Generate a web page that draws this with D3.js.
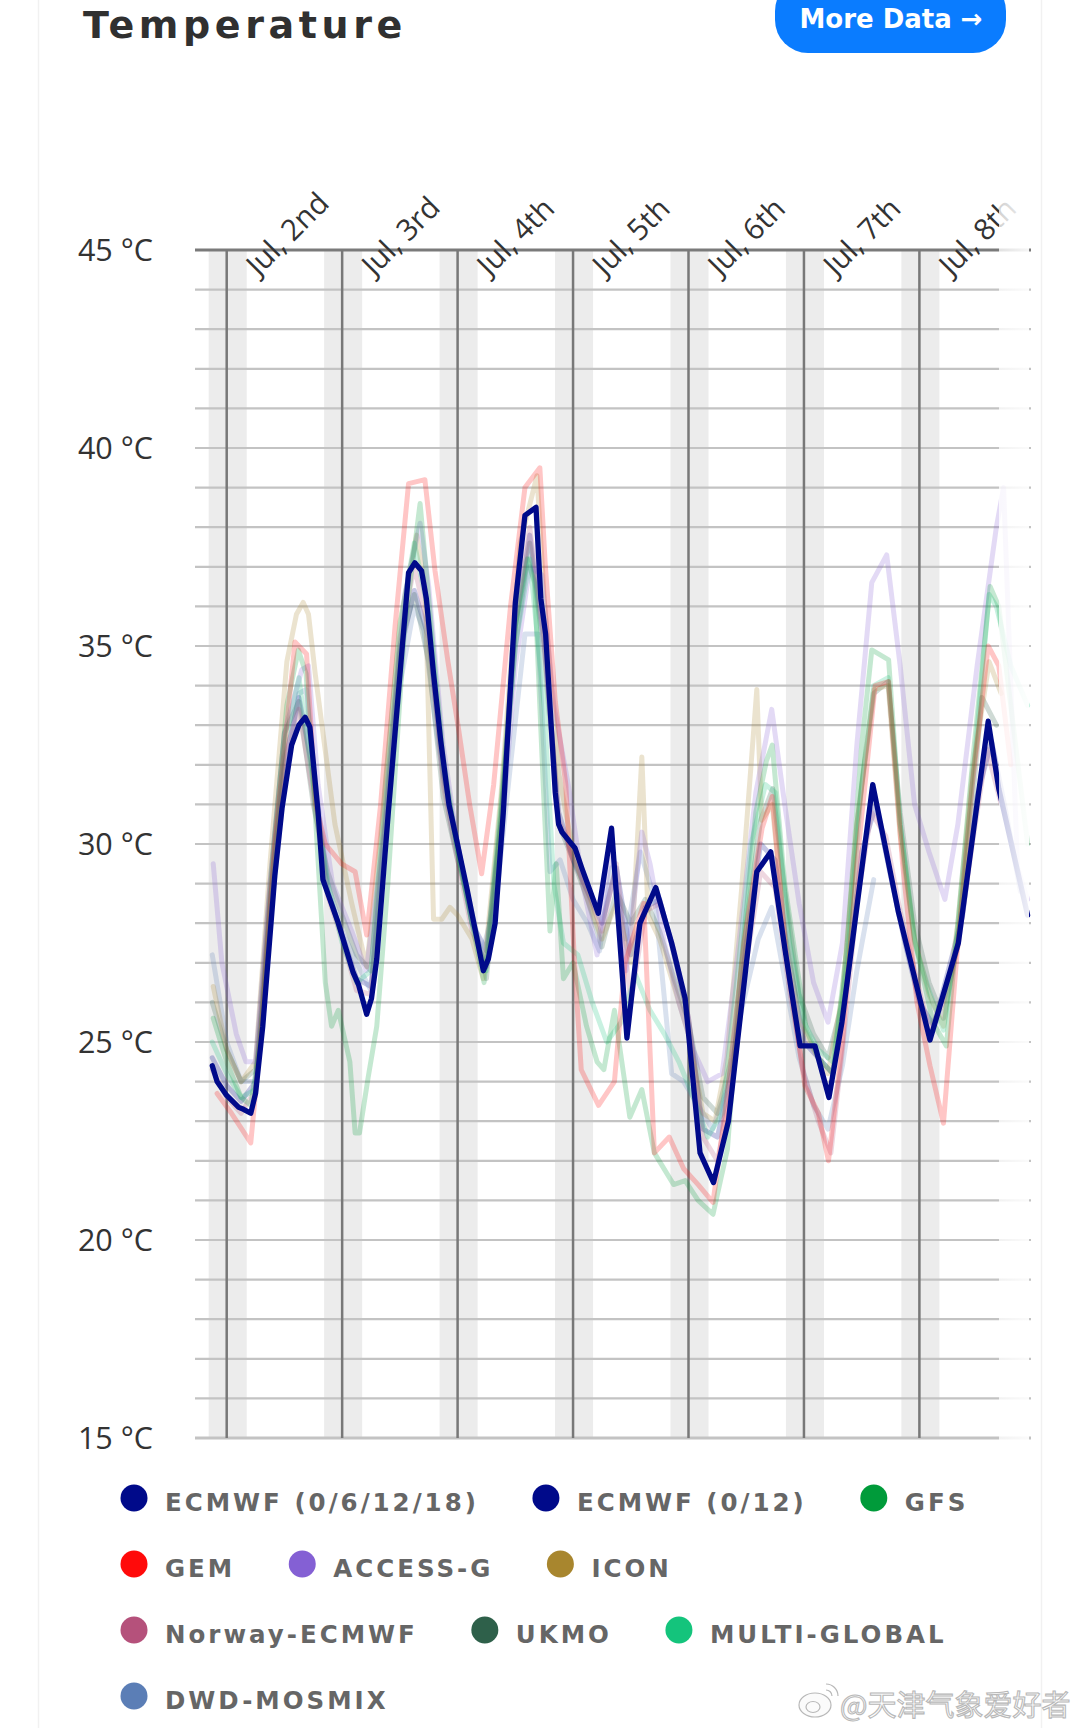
<!DOCTYPE html>
<html>
<head>
<meta charset="utf-8">
<script src="https://cdn.jsdelivr.net/npm/d3@7"></script>
<style>
  html, body { margin: 0; padding: 0; background: #fff; }
  svg { display: block; }
</style>
</head>
<body>
<svg id="chart" width="1080" height="1728"></svg>
<script>
// hours are counted from Jul 1st 00:00
const dayTicks = [24, 48, 72, 96, 120, 144, 168];
const dayLabels = ["Jul, 2nd", "Jul, 3rd", "Jul, 4th", "Jul, 5th", "Jul, 6th", "Jul, 7th", "Jul, 8th"];
const tempTicks = [15, 20, 25, 30, 35, 40, 45];

const legendNames = ["ECMWF (0/6/12/18)", "ECMWF (0/12)", "GFS", "GEM", "ACCESS-G", "ICON",
  "Norway-ECMWF", "UKMO", "MULTI-GLOBAL", "DWD-MOSMIX"];
const legendColors = ["#000a8a", "#000a8a", "#009b3a", "#ff0a0a", "#8460d4", "#a8862e",
  "#b5517b", "#2e604a", "#14c47c", "#5b7eb6"];

// [hour, °C]
const ecmwf6h = [[21,24.4],[22,24.0],[24,23.65],[26.5,23.35],[27.5,23.3],[29,23.2],[30,23.7],[31.5,25.4],[34,29.2],[35.5,30.9],[37.5,32.5],[39,33.0],[40.3,33.2],[41.3,32.95],[43,30.8],[44,29.1],[47.2,28.0],[50.3,26.75],[51.4,26.45],[53.1,25.7],[54.1,26.1],[55.2,27.1],[57.6,30.8],[61.8,36.85],[63.1,37.1],[64.5,36.9],[65.5,36.2],[67,34.3],[68.5,32.6],[70.2,31.0],[72.15,29.9],[73.9,28.9],[77.35,26.8],[78.4,27.1],[79.8,28.0],[81.5,30.8],[84,36.1],[86,38.3],[88.3,38.5],[89.3,36.2],[90.3,35.3],[92.3,31.3],[93,30.5],[93.7,30.3],[95.7,30.0],[96.4,29.9],[97.8,29.4],[101.25,28.25],[104,30.4],[107.2,25.1],[109.9,28.0],[113.2,28.9],[116.5,27.5],[119.3,26.1],[122.4,22.2],[125.2,21.45],[128.3,23.0],[134.2,29.3],[137.1,29.8],[140.1,27.3],[143.2,24.9],[146.3,24.9],[149.2,23.6],[151.9,25.5],[158.3,31.5],[163.6,28.3],[170.2,25.05],[176.1,27.5],[182.3,33.1],[184.5,31.4],[190.5,28.2]];

const ecmwf12h = [[21,24.6],[24,23.9],[27,23.5],[30,24.0],[33,28.5],[36,32.0],[39,33.7],[42,31.8],[45,28.8],[48,27.7],[51,26.6],[54,26.4],[57,30.5],[60,34.8],[63,36.4],[66,35.2],[69,31.8],[72,30.0],[75,28.0],[78,27.3],[81,30.5],[84,35.5],[87,37.8],[90,35.0],[93,30.8],[96,29.6],[99,28.8],[102,28.0],[105,29.4],[108,27.2],[111,28.4],[114,28.6],[117,27.2],[120,25.6],[123,22.8],[126,22.6],[129,24.2],[132,27.5],[135,30.0],[138,29.6],[141,27.0],[144,25.0],[147,24.6],[150,24.2],[153,26.5],[156,29.8],[159,31.0],[162,29.2],[165,27.5],[168,26.0],[171,25.4],[174,26.8],[177,28.2],[180,31.2],[183,32.6],[186,30.8],[189,28.8]];

const gfs = [[21.2,25.6],[24,24.5],[27,23.6],[29,23.4],[31,25.0],[33.5,29.5],[36.5,33.5],[38.9,34.9],[40.5,34.3],[42.3,31.0],[44.5,26.5],[45.8,25.4],[47.2,25.8],[49.6,24.5],[50.7,22.7],[51.6,22.7],[53.4,24.1],[55.2,25.4],[57.5,29.0],[61,35.5],[64.2,38.6],[66,36.2],[69,32.2],[72,29.8],[75,28.0],[77.5,26.5],[81,31.0],[84,35.5],[86.5,37.2],[88,36.6],[89.8,31.5],[91.2,27.8],[92.5,29.5],[94,26.6],[96,27.0],[98.8,25.4],[101,24.5],[102.4,24.3],[104.6,25.8],[107.8,23.1],[110.3,23.8],[112.9,22.2],[116.9,21.4],[119.3,21.5],[122,21.0],[125.1,20.65],[128.1,22.3],[131,27.0],[134,30.8],[136.2,32.1],[137.4,32.5],[140,29.0],[144.5,25.3],[147,24.6],[150,24.2],[153,27.5],[156,32.5],[158.1,34.9],[161.6,34.65],[164,30.5],[167,27.6],[170.8,25.5],[173.6,24.9],[176,28.0],[179,32.0],[182.7,36.5],[184.5,36.0],[187,33.5],[190.5,30.0]];

const gem = [[22,23.7],[25,23.2],[29,22.45],[31,25.0],[34,30.0],[38.2,35.1],[40.6,34.8],[42.5,31.0],[44.5,30.0],[47.9,29.5],[50.7,29.3],[53.1,27.7],[56,31.0],[59,35.5],[61.8,39.1],[65.2,39.2],[67.3,36.9],[70,34.6],[72.2,32.9],[74.5,31.0],[77,29.25],[79.5,31.5],[83,36.0],[86,39.0],[89.1,39.5],[90.2,37.1],[92.3,33.6],[94.5,31.5],[96.3,27.0],[97.7,24.3],[101.3,23.4],[104.6,24.0],[106.8,27.0],[110.7,28.5],[112.9,22.2],[116,22.6],[119,21.8],[122,21.4],[125.1,20.95],[128,23.6],[131.5,27.5],[135.3,30.4],[137.4,31.2],[140.5,27.0],[144.2,23.9],[147,23.2],[149.1,22.0],[152,25.0],[155,29.5],[158.8,34.0],[161.6,34.1],[164.5,29.5],[167.5,26.0],[170.2,24.4],[173,22.95],[176,27.5],[179,31.5],[182.3,35.0],[184.5,34.5],[187,32.0]];

const accessG = [[21.2,29.5],[23,27.0],[26,25.2],[28,24.5],[30,24.5],[33,29.0],[36,32.8],[39.6,34.4],[41,34.5],[43,31.5],[46,29.0],[50,27.8],[53,26.8],[57,30.5],[61,36.3],[64.2,38.1],[66,36.5],[69,32.5],[72,30.0],[75,28.0],[78,26.9],[81,30.0],[84,34.5],[87,37.0],[89.5,36.8],[92,33.5],[95,31.5],[98,29.0],[101,27.2],[104,30.0],[107,26.8],[110.3,30.3],[112,29.5],[115,27.5],[118,26.0],[121,24.8],[124,24.0],[127,24.2],[130,27.0],[134,31.3],[137.3,33.4],[140,31.0],[143,28.5],[146,26.5],[149,25.5],[152,27.5],[155,32.5],[158.1,36.6],[161.2,37.3],[164,34.5],[167,31.0],[170,29.8],[173.3,28.6],[176,30.5],[180,34.5],[184,38.0],[185.5,39.0],[188.4,29.4],[190.5,28.6]];

const icon = [[21.2,26.4],[24,24.8],[27,24.0],[30,24.5],[33,29.5],[36.5,34.6],[38.5,35.8],[39.9,36.1],[41,35.8],[42.4,34.3],[46.5,30.5],[50,28.5],[53.1,26.9],[56,30.2],[60,35.6],[63.5,37.8],[65.3,36.4],[67,28.1],[68.7,28.1],[70.4,28.4],[72,28.2],[75,27.6],[77.3,26.6],[81,31.2],[85,37.6],[88.5,39.3],[90,36.2],[93,31.8],[96,29.8],[99,28.6],[102,27.6],[105,28.5],[108,27.0],[110.3,32.2],[111.6,28.2],[114,27.6],[117,26.4],[120,25.2],[123,23.2],[125.5,23.0],[128,24.6],[131,28.8],[134.2,33.9],[135.2,30.6],[137.4,31.0],[140,27.8],[143,25.6],[146,24.8],[149,24.2],[152,26.2],[155,30.5],[158.5,33.9],[161.5,34.0],[164,30.2],[167,27.6],[170,26.2],[173,25.4],[176,28.0],[179,31.8],[182.5,34.6],[185,33.8]];

const norwayEcmwf = [[21,24.3],[24,23.6],[27,23.2],[30,23.8],[33,28.8],[36,32.2],[39,33.4],[42,31.2],[45,28.7],[48,27.6],[51,26.3],[54,26.2],[57,30.8],[60,35.2],[63,37.0],[66,35.4],[69,31.5],[72,29.6],[75,27.8],[78,26.9],[81,30.6],[84,35.6],[87,38.0],[90,35.2],[93,30.6],[96,29.7],[99,28.8],[102,27.8],[105,29.5],[108,26.0],[111,28.3],[114,28.5],[117,27.3],[120,25.6],[123,22.6],[126,22.0],[129,23.8],[132,27.0],[135,29.3],[138,28.9],[141,26.3],[144,24.2],[147,23.0],[149.6,22.2],[152,24.8],[155,28.5],[158,30.8],[161,30.2],[164,28.3],[167,26.8],[170,25.3],[173,26.0],[176,27.4],[179,30.0],[182,32.4],[185,31.0]];

const ukmo = [[21,26.0],[24,24.8],[27,24.0],[30,24.3],[33,29.0],[36,32.8],[39,33.6],[42,31.0],[45,29.3],[48,28.2],[51,27.2],[54,26.8],[57,31.0],[60,35.0],[63,36.3],[66,34.6],[69,31.2],[72,29.6],[75,28.2],[78,26.6],[81,30.5],[84,35.0],[87,37.6],[90,34.8],[93,30.5],[96,29.6],[99,28.6],[102,27.4],[105,28.8],[108,28.0],[111,28.6],[114,27.8],[117,26.6],[120,25.5],[123,23.6],[126,23.2],[129,24.6],[132,28.0],[135,30.6],[137.5,31.4],[140,28.8],[143,26.2],[146,25.2],[149,24.6],[152,26.0],[155,30.5],[158.5,33.8],[161.5,34.1],[164,30.8],[167,28.0],[170,26.5],[173,25.6],[176,27.5],[179,31.0],[181,33.7],[184,33.0]];

const multiGlobal = [[21,25.0],[24,24.2],[27,23.6],[30,23.8],[33,28.0],[36,32.5],[39,34.2],[42,31.5],[45,29.0],[48,27.5],[51,26.5],[54,26.8],[57,31.5],[60,35.5],[63,37.6],[66,35.8],[69,32.0],[72,29.8],[75,28.0],[78,26.8],[81,30.8],[84,35.0],[87,37.2],[90,33.5],[92,29.0],[94,27.5],[97,27.2],[100,26.0],[103,25.0],[106,25.5],[109,26.7],[112,25.8],[115,25.2],[118,24.5],[121,23.6],[124,22.6],[127,23.2],[130,26.5],[133,30.0],[136,31.5],[138,31.3],[141,27.5],[144,25.5],[147,24.8],[150,24.5],[153,27.0],[156,31.5],[158.5,34.0],[161.5,34.2],[164,30.5],[167,27.5],[170,26.3],[173,25.3],[176,27.8],[179,31.5],[182.5,36.3],[184,36.0],[187,34.5],[190.5,33.5]];

const dwdMosmix = [[21,27.2],[24,25.0],[27,24.0],[30,24.0],[33,28.0],[36,31.5],[39,33.8],[40.5,33.9],[42,32.0],[45,29.0],[48,27.8],[51,27.0],[54,26.3],[57,30.0],[60,34.0],[63,36.0],[65,35.4],[68,32.5],[71,30.2],[74,28.8],[77,27.2],[80,28.6],[83,32.0],[86,35.3],[88.7,35.3],[91.2,29.3],[93.3,29.6],[96,28.6],[99,28.0],[101.5,27.3],[104,29.4],[107,27.6],[110,29.8],[113,28.6],[116.5,24.2],[119,24.0],[122,23.4],[125,22.8],[128,23.8],[131,25.8],[134.5,27.6],[137.3,28.4],[140,26.6],[143,24.6],[146,23.4],[149,22.8],[152,24.4],[155,26.8],[158.5,29.1]];

// faint background models, then the highlighted run on top
const faintSeries = [
  { data: ecmwf12h, color: legendColors[1] },
  { data: dwdMosmix, color: legendColors[9] },
  { data: ukmo, color: legendColors[7] },
  { data: norwayEcmwf, color: legendColors[6] },
  { data: icon, color: legendColors[5] },
  { data: accessG, color: legendColors[4] },
  { data: multiGlobal, color: legendColors[8] },
  { data: gfs, color: legendColors[2] },
  { data: gem, color: legendColors[3] }
];

const svg = d3.select("#chart");
const x = d3.scaleLinear().domain([24, 168]).range([226.7, 919.4]);
const y = d3.scaleLinear().domain([15, 45]).range([1438, 250]);
const gridLeft = 195, gridRight = 1031, fadeStart = 999;
const axisFont = "'Open Sans', 'Noto Sans', sans-serif";
const boldFont = "'DejaVu Sans', sans-serif";

// card
svg.append("rect")
  .attr("x", 38.5).attr("y", -10).attr("width", 1003).attr("height", 1760)
  .attr("fill", "#fff").attr("stroke", "#f1f1f1").attr("stroke-width", 1.5);

svg.append("text")
  .attr("x", 83).attr("y", 38)
  .attr("font-family", boldFont).attr("font-weight", "bold")
  .attr("font-size", 38).attr("letter-spacing", "4.6px")
  .attr("fill", "#303030")
  .text("Temperature");

svg.append("rect")
  .attr("x", 775).attr("y", -22).attr("width", 231).attr("height", 75).attr("rx", 33)
  .attr("fill", "#0a7cff");
svg.append("text")
  .attr("x", 891).attr("y", 28).attr("text-anchor", "middle")
  .attr("font-family", boldFont).attr("font-weight", "bold").attr("font-size", 26)
  .attr("fill", "#fff")
  .text("More Data →");

// grid
const grid = svg.append("g");
grid.selectAll("rect.band").data(dayTicks).join("rect")
  .attr("class", "band")
  .attr("x", (d) => x(d) - 18).attr("width", 38)
  .attr("y", y(45)).attr("height", y(15) - y(45))
  .attr("fill", "#ececec");

grid.selectAll("line.h").data(y.ticks(30)).join("line")
  .attr("class", "h")
  .attr("x1", gridLeft).attr("x2", gridRight)
  .attr("y1", (d) => y(d)).attr("y2", (d) => y(d))
  .attr("stroke", (d) => d === 45 ? "#7a7a7a" : "#c3c3c3")
  .attr("stroke-width", (d) => d === 45 || d === 15 ? 3 : 2.2);

grid.selectAll("line.v").data(dayTicks).join("line")
  .attr("class", "v")
  .attr("x1", (d) => x(d)).attr("x2", (d) => x(d))
  .attr("y1", y(45)).attr("y2", y(15))
  .attr("stroke", "#787878").attr("stroke-width", 2.5);

// y axis labels
svg.append("g").selectAll("text").data(tempTicks).join("text")
  .attr("x", 153).attr("y", (d) => y(d))
  .attr("dy", "0.36em")
  .attr("text-anchor", "end")
  .attr("font-family", axisFont).attr("font-size", 30.5)
  .attr("fill", "#333")
  .text((d) => `${d} °C`);

// day labels
svg.append("g").selectAll("text").data(dayTicks).join("text")
  .attr("transform", (d) => `translate(${x(d) + 32},277) rotate(-45)`)
  .attr("font-family", axisFont).attr("font-size", 29.5)
  .attr("fill", "#333")
  .text((d, i) => dayLabels[i]);

// series
svg.append("defs").append("clipPath").attr("id", "plot-clip")
  .append("rect").attr("x", gridLeft).attr("y", 0).attr("width", gridRight - gridLeft).attr("height", 1500);

const line = d3.line().x((d) => x(d[0])).y((d) => y(d[1]));
const lines = svg.append("g").attr("clip-path", "url(#plot-clip)")
  .attr("fill", "none").attr("stroke-linejoin", "round").attr("stroke-linecap", "round");

lines.selectAll("path.faint").data(faintSeries).join("path")
  .attr("class", "faint")
  .attr("d", (s) => line(s.data))
  .attr("stroke", (s) => s.color)
  .attr("stroke-opacity", 0.23)
  .attr("stroke-width", 5);

lines.append("path")
  .attr("d", line(ecmwf6h))
  .attr("stroke", legendColors[0])
  .attr("stroke-width", 5.3);

// right edge fade
const grad = svg.select("defs").append("linearGradient").attr("id", "fade")
  .attr("x1", "0").attr("x2", "1").attr("y1", "0").attr("y2", "0");
grad.append("stop").attr("offset", "0").attr("stop-color", "#fff").attr("stop-opacity", 0.78);
grad.append("stop").attr("offset", "1").attr("stop-color", "#fff").attr("stop-opacity", 0.93);
svg.append("rect")
  .attr("x", fadeStart).attr("y", 170).attr("width", gridRight - fadeStart - 2).attr("height", 1290)
  .attr("fill", "url(#fade)");

// legend
const legend = svg.append("g");
let lx = 134;
legendNames.forEach((name, i) => {
  if (i % 3 === 0) lx = 134;
  const ly = 1498 + Math.floor(i / 3) * 66;
  legend.append("ellipse")
    .attr("cx", lx).attr("cy", ly).attr("rx", 13.5).attr("ry", 13.5)
    .attr("fill", legendColors[i]);
  const t = legend.append("text")
    .attr("x", lx + 31).attr("y", ly + 13)
    .attr("font-family", boldFont).attr("font-weight", "bold")
    .attr("font-size", 24.5).attr("letter-spacing", "3px")
    .attr("fill", "#666")
    .text(name);
  lx = lx + 31 + t.node().getComputedTextLength() + 67;
});

// watermark
const wm = svg.append("g").attr("fill", "#fbfbfb").attr("stroke", "#b8b8b8").attr("stroke-width", 1.2);
wm.append("ellipse").attr("cx", 815).attr("cy", 1705).attr("rx", 16).attr("ry", 12);
wm.append("ellipse").attr("cx", 813).attr("cy", 1707).attr("rx", 7).attr("ry", 5.5);
wm.append("path").attr("fill", "none").attr("d", "M826,1684 a12,12 0 0 1 12,12 M826,1690 a6,6 0 0 1 6,6");
wm.append("text")
  .attr("x", 840).attr("y", 1716)
  .attr("font-family", "'Noto Sans CJK SC', sans-serif").attr("font-size", 29)
  .attr("stroke-width", 1.1)
  .text("@天津气象爱好者");
</script>
</body>
</html>
